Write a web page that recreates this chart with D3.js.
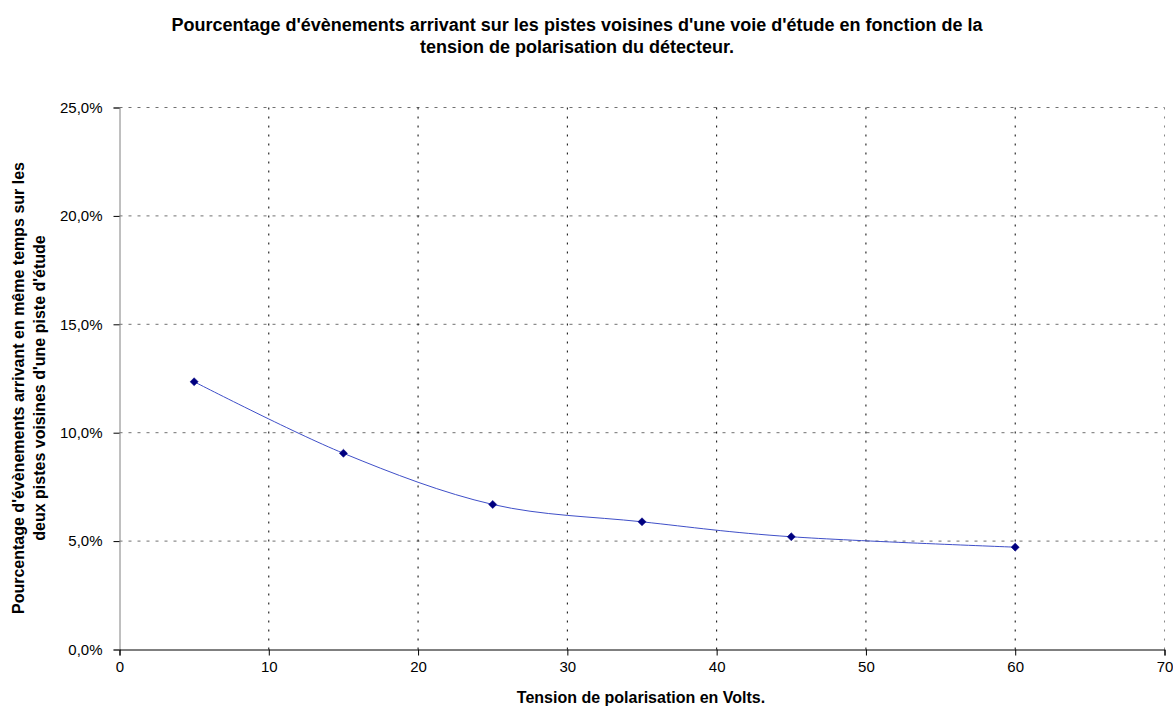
<!DOCTYPE html>
<html><head><meta charset="utf-8">
<script src="https://cdn.jsdelivr.net/npm/d3@7"></script>
<style>body{margin:0;background:#fff}svg{display:block;font-family:"Liberation Sans",Arial,sans-serif}</style>
</head><body>
<script>
const voltages = [5, 15, 25, 35, 45, 60];
const percents = [0.1235, 0.0905, 0.0669, 0.0589, 0.052, 0.0472];
const xTicks = [0, 10, 20, 30, 40, 50, 60, 70];
const yTicks = [0, 0.05, 0.10, 0.15, 0.20, 0.25];
const titleLines = ["Pourcentage d'évènements arrivant sur les pistes voisines d'une voie d'étude en fonction de la", "tension de polarisation du détecteur."];
const yTitleLines = ["Pourcentage d'évènements arrivant en même temps sur les", "deux pistes voisines d'une piste d'étude"];
const xTitle = "Tension de polarisation en Volts.";

const W = 1173, H = 708;
const svg = d3.select("body").append("svg").attr("width", W).attr("height", H);
const x = d3.scaleLinear().domain([0, 70]).range([119.5, 1164.5]);
const y = d3.scaleLinear().domain([0, 0.25]).range([649.5, 107.5]);
const fmt = v => d3.format(".1f")(v * 100).replace(".", ",") + "%";

// grid
svg.append("g").selectAll("line").data(yTicks.filter(d => d > 0)).join("line")
  .attr("x1", x(0)).attr("x2", x(70)).attr("y1", d => y(d)).attr("y2", d => y(d))
  .attr("stroke", "#707070").attr("stroke-dasharray", "3,6");
svg.append("g").selectAll("line").data(xTicks.filter(d => d > 0)).join("line")
  .attr("x1", d => x(d)).attr("x2", d => x(d)).attr("y1", y(0)).attr("y2", y(0.25))
  .attr("stroke", d => d === 70 ? "#888" : "#000").attr("stroke-dasharray", "2,7");

// axes
const yAxis = svg.append("g").attr("transform", `translate(${x(0)},0)`)
  .call(d3.axisLeft(y).tickValues(yTicks).tickFormat(fmt).tickSize(6).tickPadding(11));
yAxis.select(".domain").attr("stroke", "#808080");
yAxis.selectAll(".tick line").attr("stroke", "#000");
yAxis.selectAll("text").attr("font-size", 15).attr("fill", "#000").attr("font-family", "Liberation Sans, Arial");

const xAxis = svg.append("g").attr("transform", `translate(0,${y(0)})`)
  .call(d3.axisBottom(x).tickValues(xTicks).tickSize(6).tickPadding(6));
xAxis.select(".domain").attr("stroke", "#000");
xAxis.selectAll("text").attr("font-size", 15).attr("fill", "#000").attr("font-family", "Liberation Sans, Arial");

// line
const pts = voltages.map((v, i) => [v, percents[i]]);
svg.append("path").datum(pts)
  .attr("d", d3.line().x(d => x(d[0])).y(d => y(d[1])).curve(d3.curveCardinal.tension(0)))
  .attr("fill", "none").attr("stroke", "#3f4fc8").attr("stroke-width", 1);
svg.append("g").selectAll("path").data(pts).join("path")
  .attr("d", d3.symbol(d3.symbolDiamond2, 42)())
  .attr("transform", d => `translate(${x(d[0])},${y(d[1])})`)
  .attr("fill", "#000080").attr("stroke", "#000080").attr("stroke-width", 0.5);

// title
const tg = svg.append("g").attr("font-weight", "bold").attr("fill", "#000");
titleLines.forEach((t, i) => {
  tg.append("text").attr("x", 577).attr("y", 31 + i * 22).attr("text-anchor", "middle")
    .attr("font-size", 18).text(t);
});
// y title
yTitleLines.forEach((t, i) => {
  svg.append("text").attr("transform", `translate(${24 + i * 21},388) rotate(-90)`)
    .attr("text-anchor", "middle").attr("font-size", 16).attr("font-weight", "bold").text(t);
});
svg.append("text").attr("x", 641).attr("y", 703).attr("text-anchor", "middle")
  .attr("font-size", 16).attr("font-weight", "bold").text(xTitle);
</script>
</body></html>
